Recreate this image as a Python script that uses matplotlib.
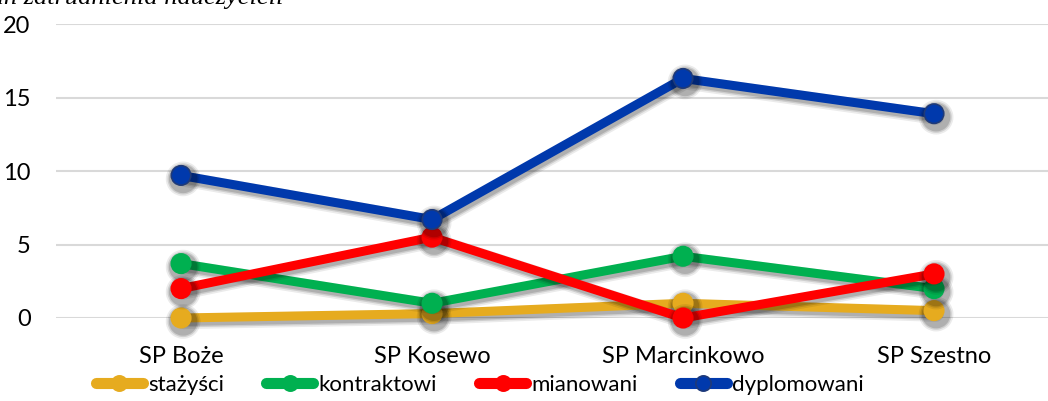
import matplotlib
matplotlib.use("Agg")
import matplotlib.pyplot as plt
import matplotlib.patheffects as pe

# --- DANE ---
szkoly = ["SP Boże", "SP Kosewo", "SP Marcinkowo", "SP Szestno"]
stazysci = [0.0, 0.3, 1.0, 0.5]
kontraktowi = [3.7, 1.0, 4.2, 2.0]
mianowani = [2.0, 5.5, 0.0, 3.0]
dyplomowani = [9.7, 6.7, 16.3, 13.9]

serie = [
    ("stażyści", stazysci, "#E6AB1F", "#E6AB1F"),
    ("kontraktowi", kontraktowi, "#00B050", "#00B050"),
    ("mianowani", mianowani, "#FF0000", "#FF0000"),
    ("dyplomowani", dyplomowani, "#0039AC", "#1F3A78"),
]

plt.rcParams["font.family"] = ["Lato", "DejaVu Sans"]

fig = plt.figure(figsize=(10.48, 4.01), dpi=100)
ax = fig.add_axes([0.053, 0.207, 0.958, 0.733])

# sombra difusa (varias capas)
sombra = [
    pe.SimpleLineShadow(offset=(1.5, -2.5), shadow_color="black", alpha=0.08, linewidth=11),
    pe.SimpleLineShadow(offset=(1.5, -2.5), shadow_color="black", alpha=0.12, linewidth=8.5),
    pe.SimpleLineShadow(offset=(1.5, -2.5), shadow_color="black", alpha=0.15, linewidth=6.5),
    pe.Normal(),
]

for nombre, valores, color, borde in serie:
    ax.plot(range(len(szkoly)), valores, color=color, linewidth=6.5,
            marker="o", markersize=14, markerfacecolor=color,
            markeredgecolor=borde, markeredgewidth=1.2,
            label=nombre, path_effects=sombra, solid_capstyle="round",
            clip_on=False)

ax.set_xlim(-0.5, 3.5)
ax.set_ylim(0, 20)
ax.set_yticks([0, 5, 10, 15, 20])
ax.set_xticks(range(len(szkoly)))
ax.set_xticklabels(szkoly)
ax.tick_params(axis="both", length=0, labelsize=17, colors="black")
ax.tick_params(axis="x", pad=20)
ax.tick_params(axis="y", pad=18)
ax.grid(axis="y", color="#D9D9D9", linewidth=1.5)
ax.set_axisbelow(True)
for s in ax.spines.values():
    s.set_visible(False)

# titulo cortado arriba
fig.text(283 / 1048, 1 - 4 / 401, "Stan zatrudnienia nauczycieli",
         ha="right", va="baseline", fontsize=19, style="italic",
         family="Liberation Serif")

leg = fig.legend(loc="center", bbox_to_anchor=(0.458, 0.04), ncol=4, frameon=False,
                 fontsize=16, handlelength=2.1, handletextpad=0.25,
                 columnspacing=1.9)
for h in leg.legend_handles:
    h.set_path_effects([])
    h.set_linewidth(8)
    h.set_markersize(11)
    h.set_solid_capstyle("round")

plt.savefig("out.png", dpi=100)
plt.close()
